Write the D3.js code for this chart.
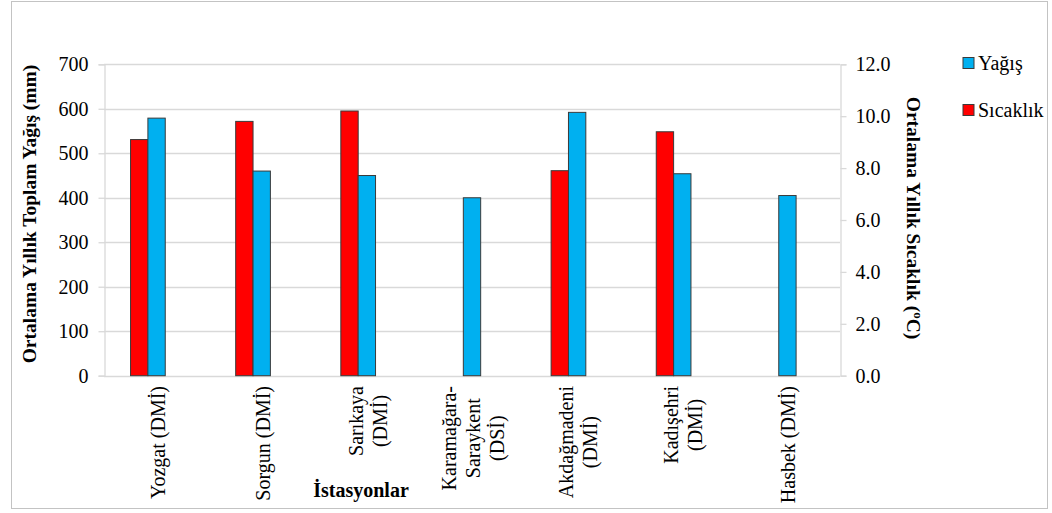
<!DOCTYPE html>
<html>
<head>
<meta charset="utf-8">
<script src="https://cdn.jsdelivr.net/npm/d3@7"></script>
<style>
  html, body { margin: 0; padding: 0; background: #fff; }
  svg { display: block; font-family: "Liberation Serif", "Times New Roman", serif; }
</style>
</head>
<body>
<svg id="chart" width="1052" height="513"></svg>
<script>
// Stations (each entry is the list of label lines)
const stations = [
  ["Yozgat (DMİ)"],
  ["Sorgun (DMİ)"],
  ["Sarıkaya", "(DMİ)"],
  ["Karamağara-", "Saraykent", "(DSİ)"],
  ["Akdağmadeni", "(DMİ)"],
  ["Kadışehri", "(DMİ)"],
  ["Hasbek (DMİ)"]
];
// Mean annual total precipitation (mm), left axis
const yagis = [579, 460, 450, 400, 592, 454, 405];
// Mean annual temperature (°C), right axis; no record for two stations
const sicaklik = [9.1, 9.8, 10.2, null, 7.9, 9.4, null];

const leftTicks = [0, 100, 200, 300, 400, 500, 600, 700];
const rightTicks = [0, 2, 4, 6, 8, 10, 12];

const seriesNames = ["Yağış", "Sıcaklık"];
const seriesColors = ["#00b0f0", "#ff0000"];

const svg = d3.select("#chart");
const plot = { left: 104, right: 840, top: 64.3, bottom: 375.7 };

// Outer frame
svg.append("rect")
  .attr("x", 11.5).attr("y", 1.5)
  .attr("width", 1036).attr("height", 507)
  .attr("fill", "none").attr("stroke", "#c3c3c3").attr("stroke-width", 1);

const x = d3.scaleBand()
  .domain(d3.range(stations.length))
  .range([plot.left, plot.right])
  .padding(0);
const yL = d3.scaleLinear().domain([0, 700]).range([plot.bottom, plot.top]);
const yR = d3.scaleLinear().domain([0, 12]).range([plot.bottom, plot.top]);

// Horizontal gridlines
svg.append("g")
  .selectAll("line")
  .data(leftTicks)
  .join("line")
  .attr("x1", plot.left).attr("x2", plot.right)
  .attr("y1", d => Math.round(yL(d)) + 0.5)
  .attr("y2", d => Math.round(yL(d)) + 0.5)
  .attr("stroke", "#d9d9d9").attr("stroke-width", 1.3);

// Left axis
const axL = svg.append("g")
  .attr("transform", `translate(${Math.round(plot.left) + 0.5},0)`)
  .call(d3.axisLeft(yL).tickValues(leftTicks).tickSize(6).tickPadding(10).tickFormat(d3.format("d")));
axL.select(".domain").attr("stroke", "#d9d9d9").attr("stroke-width", 1.3);
axL.selectAll(".tick line").attr("stroke", "#d9d9d9").attr("stroke-width", 1.3);
axL.selectAll(".tick text")
  .attr("font-family", "'Liberation Serif', 'Times New Roman', serif")
  .attr("font-size", 20).attr("fill", "#000");

// Right axis
const axR = svg.append("g")
  .attr("transform", `translate(${Math.round(plot.right) + 0.5},0)`)
  .call(d3.axisRight(yR).tickValues(rightTicks).tickSize(6).tickPadding(9).tickFormat(d3.format(".1f")));
axR.select(".domain").attr("stroke", "#d9d9d9").attr("stroke-width", 1.3);
axR.selectAll(".tick line").attr("stroke", "#d9d9d9").attr("stroke-width", 1.3);
axR.selectAll(".tick text")
  .attr("font-family", "'Liberation Serif', 'Times New Roman', serif")
  .attr("font-size", 20).attr("fill", "#000");

// Bars: temperature to the left of the band centre, precipitation centred
const bw = x.bandwidth() * 0.165;
const cx = i => x(i) + x.bandwidth() / 2;

svg.append("g")
  .selectAll("rect")
  .data(sicaklik.map((v, i) => ({ v, i })).filter(d => d.v != null))
  .join("rect")
  .attr("x", d => cx(d.i) - 1.5 * bw)
  .attr("width", bw)
  .attr("y", d => yR(d.v))
  .attr("height", d => plot.bottom - yR(d.v))
  .attr("fill", seriesColors[1])
  .attr("stroke", "#3a3a3a").attr("stroke-width", 1);

svg.append("g")
  .selectAll("rect")
  .data(yagis.map((v, i) => ({ v, i })))
  .join("rect")
  .attr("x", d => cx(d.i) - 0.5 * bw)
  .attr("width", bw)
  .attr("y", d => yL(d.v))
  .attr("height", d => plot.bottom - yL(d.v))
  .attr("fill", seriesColors[0])
  .attr("stroke", "#3a3a3a").attr("stroke-width", 1);

// Category labels, rotated, lines centred within their block
const lineH = 24;
const labelTop = 386;
const cat = svg.append("g")
  .attr("font-size", 20).attr("fill", "#000");
stations.forEach((lines, i) => {
  const g = cat.append("g");
  const n = lines.length;
  const texts = lines.map((s, k) => g.append("text")
    .attr("text-anchor", "middle")
    .attr("dy", "0.35em")
    .text(s));
  const maxW = d3.max(texts, t => t.node().getComputedTextLength());
  texts.forEach((t, k) => {
    const off = (k - (n - 1) / 2) * lineH;
    t.attr("transform", `translate(${cx(i) + off + 1},${labelTop + maxW / 2}) rotate(-90)`);
  });
});

// Axis titles
svg.append("text")
  .attr("transform", `translate(36,214) rotate(-90)`)
  .attr("text-anchor", "middle")
  .attr("font-weight", "bold").attr("font-size", 19.5)
  .text("Ortalama Yıllık Toplam Yağış (mm)");

const rt = svg.append("text")
  .attr("transform", `translate(907,218) rotate(90)`)
  .attr("text-anchor", "middle")
  .attr("font-weight", "bold").attr("font-size", 19.5);
rt.append("tspan").text("Ortalama Yıllık Sıcaklık (");
rt.append("tspan").attr("font-size", 13).attr("dy", -7).text("o");
rt.append("tspan").attr("dy", 7).text("C)");

svg.append("text")
  .attr("x", 361).attr("y", 497)
  .attr("text-anchor", "middle")
  .attr("font-weight", "bold").attr("font-size", 20)
  .text("İstasyonlar");

// Legend
const legend = svg.append("g").attr("transform", "translate(963,0)");
[63, 110].forEach((yy, k) => {
  legend.append("rect")
    .attr("x", 0).attr("y", yy - 5.5)
    .attr("width", 11).attr("height", 11)
    .attr("fill", seriesColors[k])
    .attr("stroke", "#3a3a3a").attr("stroke-width", 1);
  legend.append("text")
    .attr("x", 15).attr("y", yy)
    .attr("dy", "0.35em")
    .attr("font-size", 20)
    .text(seriesNames[k]);
});
</script>
</body>
</html>
